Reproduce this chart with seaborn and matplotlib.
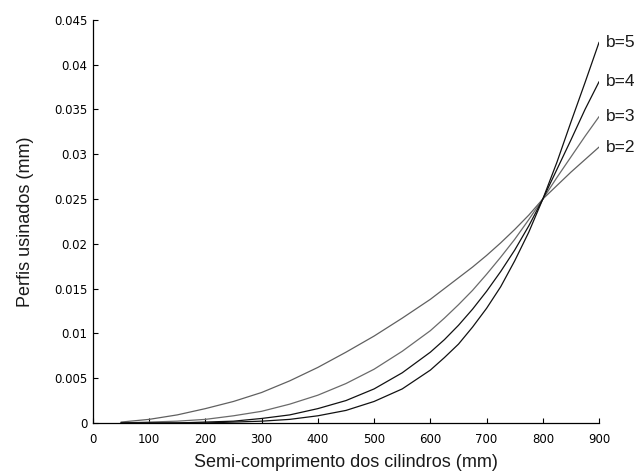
import numpy as np
import pandas as pd
import seaborn as sns
import matplotlib
matplotlib.use("Agg")
import matplotlib.pyplot as plt
from matplotlib.ticker import FuncFormatter

# semi-length positions (mm)
x_mm = [50, 100, 150, 200, 250, 300, 350, 400, 450, 500, 550,
        600, 625, 650, 675, 700, 725, 750, 775, 800, 825, 850, 875, 900]

# machined profiles (mm)
b2 = [0.0001, 0.0004, 0.0009, 0.0016, 0.0024, 0.0034, 0.0047, 0.0062, 0.0079, 0.0097, 0.0117,
      0.0138, 0.0150, 0.0162, 0.0174, 0.0187, 0.0201, 0.0216, 0.0232, 0.0250, 0.0265, 0.0280, 0.0294, 0.0308]
b3 = [0.0000, 0.0001, 0.0002, 0.0004, 0.0008, 0.0013, 0.0021, 0.0031, 0.0044, 0.0060, 0.0080,
      0.0103, 0.0117, 0.0132, 0.0148, 0.0166, 0.0185, 0.0205, 0.0227, 0.0250, 0.0274, 0.0297, 0.0320, 0.0342]
b4 = [0.0000, 0.0000, 0.0000, 0.0001, 0.0002, 0.0005, 0.0009, 0.0016, 0.0025, 0.0038, 0.0056,
      0.0079, 0.0093, 0.0109, 0.0127, 0.0147, 0.0169, 0.0193, 0.0220, 0.0250, 0.0283, 0.0316, 0.0350, 0.0381]
b5 = [0.0000, 0.0000, 0.0000, 0.0000, 0.0001, 0.0002, 0.0004, 0.0008, 0.0014, 0.0024, 0.0038,
      0.0059, 0.0073, 0.0088, 0.0107, 0.0128, 0.0152, 0.0181, 0.0213, 0.0250, 0.0291, 0.0336, 0.0380, 0.0425]

curve_names = ["b=2", "b=3", "b=4", "b=5"]
curve_vals = [b2, b3, b4, b5]
curve_colors = ["#606060", "#6a6a6a", "#111111", "#111111"]

df = pd.DataFrame({
    "x": x_mm * len(curve_names),
    "y": b2 + b3 + b4 + b5,
    "curva": np.repeat(curve_names, len(x_mm)),
})

sns.set_style("white")
plt.rcParams["font.family"] = ["Liberation Sans", "DejaVu Sans"]
plt.rcParams["text.color"] = "#1a1a1a"
plt.rcParams["axes.labelcolor"] = "#1a1a1a"
plt.rcParams["xtick.color"] = "black"
plt.rcParams["ytick.color"] = "black"

fig = plt.figure(figsize=(6.36, 4.71), dpi=100)
ax = fig.add_axes([0.146, 0.102, 0.796, 0.856])

sns.lineplot(data=df, x="x", y="y", hue="curva", palette=dict(zip(curve_names, curve_colors)),
             linewidth=0.9, legend=False, ax=ax)

for name, vals in zip(curve_names, curve_vals):
    ax.text(912, vals[-1], name, fontsize=12.5, va="center", ha="left", clip_on=False)

ax.set_xlim(0, 900)
ax.set_ylim(0, 0.045)
ax.set_xticks(np.arange(0, 901, 100))
ax.set_yticks(np.arange(0, 0.0451, 0.005))
ax.yaxis.set_major_formatter(FuncFormatter(lambda v, p: "%g" % round(v, 4)))
ax.tick_params(direction="in", length=3.5, width=0.8, color="black",
               bottom=True, left=True)
for lbl in ax.get_xticklabels() + ax.get_yticklabels():
    lbl.set_family("DejaVu Sans")
    lbl.set_fontsize(8.5)
ax.tick_params(axis="x", pad=7)
ax.tick_params(axis="y", pad=4)

sns.despine(ax=ax)
for s in ["left", "bottom"]:
    ax.spines[s].set_color("black")
    ax.spines[s].set_linewidth(0.9)

ax.set_xlabel("Semi-comprimento dos cilindros (mm)", fontsize=13, labelpad=6)
ax.set_ylabel("Perfis usinados (mm)", fontsize=13, labelpad=14)

fig.savefig("out.png", dpi=100)
